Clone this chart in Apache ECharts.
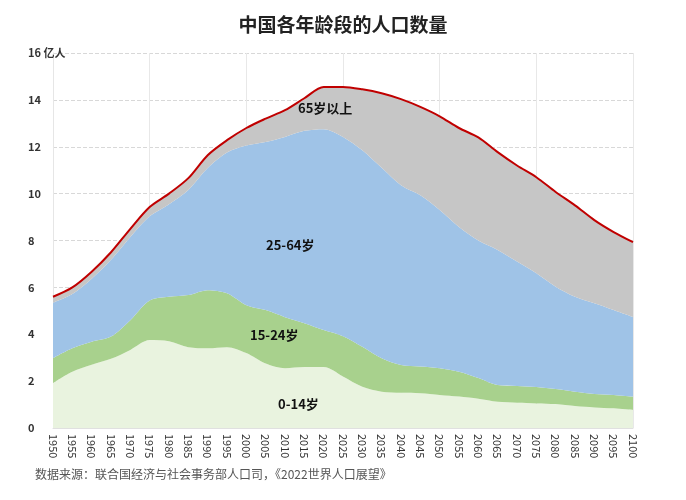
<!DOCTYPE html>
<html>
<head>
<meta charset="utf-8">
<script src="https://cdn.jsdelivr.net/npm/echarts@6/dist/echarts.min.js"></script>
<style>
  html, body { margin: 0; padding: 0; background: #fff; }
  #main { width: 686px; height: 500px; }
</style>
</head>
<body>
<div id="main"></div>
<script>
// 年份（每5年一个点）
var years = [];
for (var y = 1950; y <= 2100; y += 5) years.push(String(y));

// 各年龄段人口（亿人），从原图读取的估计值
var age0_14 = [1.92, 2.4, 2.7, 2.95, 3.33, 3.75, 3.7, 3.45, 3.4, 3.45, 3.2, 2.75, 2.55, 2.6, 2.6, 2.2,
  1.76, 1.55, 1.5, 1.48, 1.41, 1.34, 1.25, 1.12, 1.08, 1.05, 1.02, 0.94, 0.88, 0.84, 0.77];
var age15_24 = [1.06, 1.0, 0.98, 0.95, 1.27, 1.69, 1.9, 2.22, 2.48, 2.3, 2.04, 2.28, 2.18, 1.87, 1.58, 1.72,
  1.71, 1.43, 1.19, 1.14, 1.14, 1.06, 0.88, 0.71, 0.71, 0.7, 0.64, 0.61, 0.57, 0.57, 0.57];
var age25_64 = [2.37, 2.32, 2.69, 3.28, 3.55, 3.59, 3.95, 4.49, 5.21, 6.0, 6.81, 7.17, 7.69, 8.21, 8.57, 8.5,
  8.38, 8.12, 7.67, 7.31, 6.75, 6.18, 5.87, 5.77, 5.31, 4.85, 4.37, 4.05, 3.87, 3.62, 3.39];
var age65 = [0.25, 0.28, 0.3, 0.32, 0.35, 0.4, 0.45, 0.5, 0.55, 0.53, 0.75, 1.0, 1.14, 1.39, 1.8, 2.13,
  2.6, 3.18, 3.67, 3.77, 4.0, 4.22, 4.4, 4.17, 4.1, 4.1, 4.04, 3.9, 3.55, 3.33, 3.2];

var myChart = echarts.init(document.getElementById('main'));

function layer(name, data, color, line) {
  return {
    name: name,
    type: 'line',
    stack: 'pop',
    data: data,
    smooth: 0.3,
    symbol: 'none',
    lineStyle: line || { width: 0 },
    areaStyle: { color: color, opacity: 1 },
    z: line ? 3 : 2
  };
}

var labelFont = { fontFamily: 'Noto Sans CJK SC', fontSize: 13, fontWeight: 'bold', fill: '#111' };

var option = {
  backgroundColor: '#fff',
  animation: false,
  title: {
    text: '中国各年龄段的人口数量',
    left: 'center',
    top: 10,
    textStyle: { fontFamily: 'Noto Sans CJK SC', fontSize: 19, fontWeight: 'bold', color: '#222' }
  },
  grid: { left: 53, right: 53, top: 53, bottom: 72 },
  xAxis: {
    type: 'category',
    data: years,
    boundaryGap: false,
    axisLine: { lineStyle: { color: '#e0e0e0' } },
    axisTick: { show: false },
    axisLabel: {
      rotate: -90,
      interval: 0,
      margin: 6,
      fontSize: 11,
      color: '#333',
      fontFamily: 'Noto Sans CJK SC'
    },
    splitLine: {
      show: true,
      interval: function (index) { return index % 5 === 0; },
      lineStyle: { color: '#e8e8e8', type: 'solid' }
    }
  },
  yAxis: {
    type: 'value',
    min: 0,
    max: 16,
    interval: 2,
    axisLine: { show: true, lineStyle: { color: '#e6e6e6' } },
    axisTick: { show: false },
    axisLabel: {
      align: 'left',
      margin: 25,
      fontSize: 11,
      color: '#333',
      fontWeight: 'bold',
      fontFamily: 'Noto Sans CJK SC',
      formatter: function (v) { return v === 16 ? '16 亿人' : String(v); }
    },
    splitLine: { lineStyle: { color: '#d8d8d8', type: 'dashed' } }
  },
  series: [
    layer('0-14岁', age0_14, '#e9f3df'),
    layer('15-24岁', age15_24, '#a8d18d'),
    layer('25-64岁', age25_64, '#9fc3e7'),
    layer('65岁以上', age65, '#c6c6c6', { width: 2, color: '#c00000' })
  ],
  graphic: [
    { type: 'text', z: 100, left: 298, top: 102, style: Object.assign({ text: '65岁以上' }, labelFont) },
    { type: 'text', z: 100, left: 266, top: 239, style: Object.assign({ text: '25-64岁' }, labelFont) },
    { type: 'text', z: 100, left: 250, top: 329, style: Object.assign({ text: '15-24岁' }, labelFont) },
    { type: 'text', z: 100, left: 278, top: 398, style: Object.assign({ text: '0-14岁' }, labelFont) },
    {
      type: 'text', z: 100, left: 35, top: 468,
      style: { text: '数据来源：联合国经济与社会事务部人口司，《2022世界人口展望》',
        fontFamily: 'Noto Sans CJK SC', fontSize: 12, fill: '#555' }
    }
  ]
};

myChart.setOption(option);
</script>
</body>
</html>
